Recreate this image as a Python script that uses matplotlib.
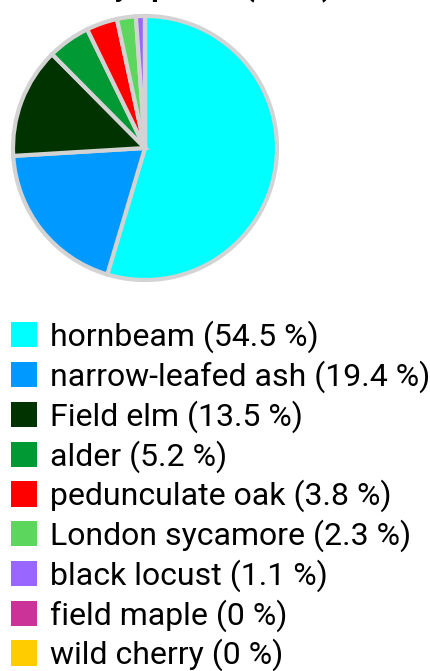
import matplotlib.pyplot as plt
from matplotlib.patches import Patch

plt.rcParams['font.family'] = ['Roboto', 'DejaVu Sans']

species = ['hornbeam', 'narrow-leafed ash', 'Field elm', 'alder', 'pedunculate oak',
           'London sycamore', 'black locust', 'field maple', 'wild cherry']
shares = [54.5, 19.4, 13.5, 5.2, 3.8, 2.3, 1.1, 0, 0]
colors = ['#00ffff', '#0099ff', '#003300', '#009933', '#ff0000',
          '#5cd65c', '#9966ff', '#cc3399', '#ffcc00']
title = 'by species (2019)'

W, H = 431, 671
fig = plt.figure(figsize=(W / 100, H / 100), dpi=100)

# pie area: centre ~(145, 148) px, radius ~133 px
cx, cy, r = 145, 148, 132
ax = fig.add_axes([(cx - r) / W, (H - cy - r) / H, 2 * r / W, 2 * r / H])
wedges, _ = ax.pie(shares, colors=colors, startangle=90, counterclock=False,
                   wedgeprops=dict(edgecolor='#d3d3d3', linewidth=3))
for w in wedges:
    w.set_clip_on(False)
ax.set_xlim(-1, 1)
ax.set_ylim(-1, 1)
ax.set_aspect('equal')
ax.axis('off')

# title is cut off by the top edge, only descenders show
fig.text(215 / W, 1 + 4 / H, title, ha='center', va='baseline',
         fontsize=21, fontweight='bold')

labels = [f'{s} ({v:g} %)' for s, v in zip(species, shares)]
handles = [Patch(facecolor=c, edgecolor='none') for c in colors]
fig.legend(handles, labels, loc='upper left', bbox_to_anchor=(1 / W, (H - 311) / H),
           frameon=False, fontsize=23, handlelength=0.84, handleheight=0.84,
           handletextpad=0.38, labelspacing=0.225, borderaxespad=0, borderpad=0.3)

fig.savefig('out.png', dpi=100)
